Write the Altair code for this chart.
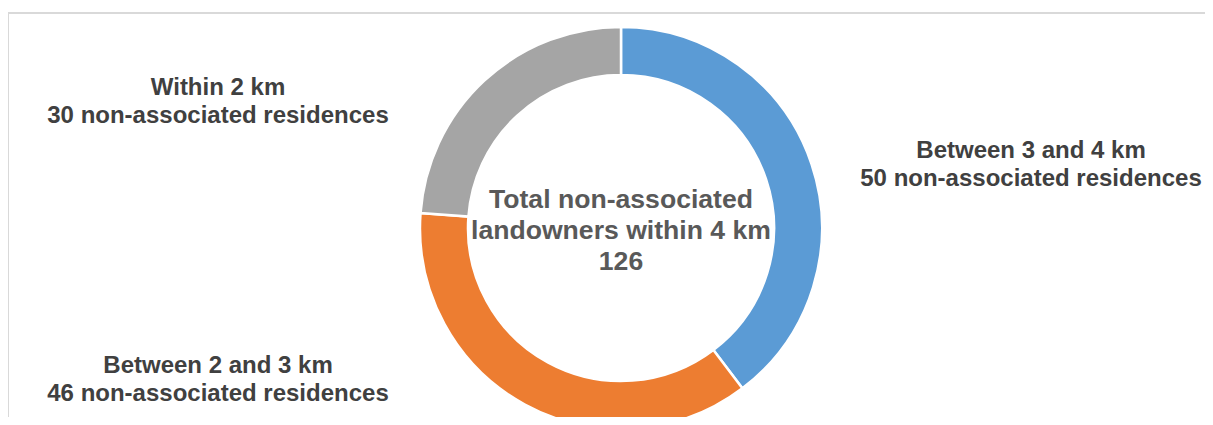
import altair as alt
import pandas as pd

# ---- data ----
categories = ["Between 3 and 4 km", "Between 2 and 3 km", "Within 2 km"]
counts = [50, 46, 30]
unit_label = "non-associated residences"
center_lines = ["Total non-associated", "landowners within 4 km"]
colors = ["#5B9BD5", "#ED7D31", "#A5A5A5"]

total = sum(counts)
df = pd.DataFrame({
    "idx": list(range(len(categories))),
    "category": categories,
    "count": counts,
})
df["label"] = [f"{c}\n{n} {unit_label}" for c, n in zip(categories, counts)]

center_df = pd.DataFrame({"text": ["\n".join(center_lines + [str(total)])]})

W, H = 1197, 409
CX, CY = 613, 220
FONT = "Arial, Liberation Sans, sans-serif"

arc = alt.Chart(df).mark_arc(
    radius=201, radius2=153, stroke="white", strokeWidth=2.5
).encode(
    theta=alt.Theta("count:Q", stack=True),
    color=alt.Color("category:N", scale=alt.Scale(domain=categories, range=colors), legend=None),
    order=alt.Order("idx:Q"),
    x=alt.value(CX),
    y=alt.value(CY),
)

label_pos = {
    "Between 3 and 4 km": (1023, 150),
    "Between 2 and 3 km": (210, 365),
    "Within 2 km": (210, 87),
}

layers = [arc]
for cat in categories:
    px, py = label_pos[cat]
    layers.append(
        alt.Chart(df).transform_filter(alt.datum.category == cat).mark_text(
            font=FONT, fontSize=24, fontWeight="bold", color="#404040",
            align="center", baseline="alphabetic", lineBreak="\n", lineHeight=28,
        ).encode(x=alt.value(px), y=alt.value(py), text="label:N")
    )

center = alt.Chart(center_df).mark_text(
    font=FONT, fontSize=26.6, fontWeight="bold", color="#595959",
    align="center", baseline="alphabetic", lineBreak="\n", lineHeight=31,
).encode(x=alt.value(CX), y=alt.value(200), text="text:N")
layers.append(center)

frame_df = pd.DataFrame({"a": [0]})
top_rule = alt.Chart(frame_df).mark_rule(color="#d9d9d9", strokeWidth=2).encode(
    x=alt.value(0), x2=alt.value(W), y=alt.value(5)
)
left_rule = alt.Chart(frame_df).mark_rule(color="#d9d9d9", strokeWidth=2).encode(
    x=alt.value(0), y=alt.value(5), y2=alt.value(H)
)
layers = [top_rule, left_rule] + layers

chart = alt.layer(*layers).properties(
    width=W, height=H, autosize=alt.AutoSizeParams(type="none"), padding=0
).configure_view(stroke=None)

chart.save("out.html", embed_options={"renderer": "svg", "actions": False})
